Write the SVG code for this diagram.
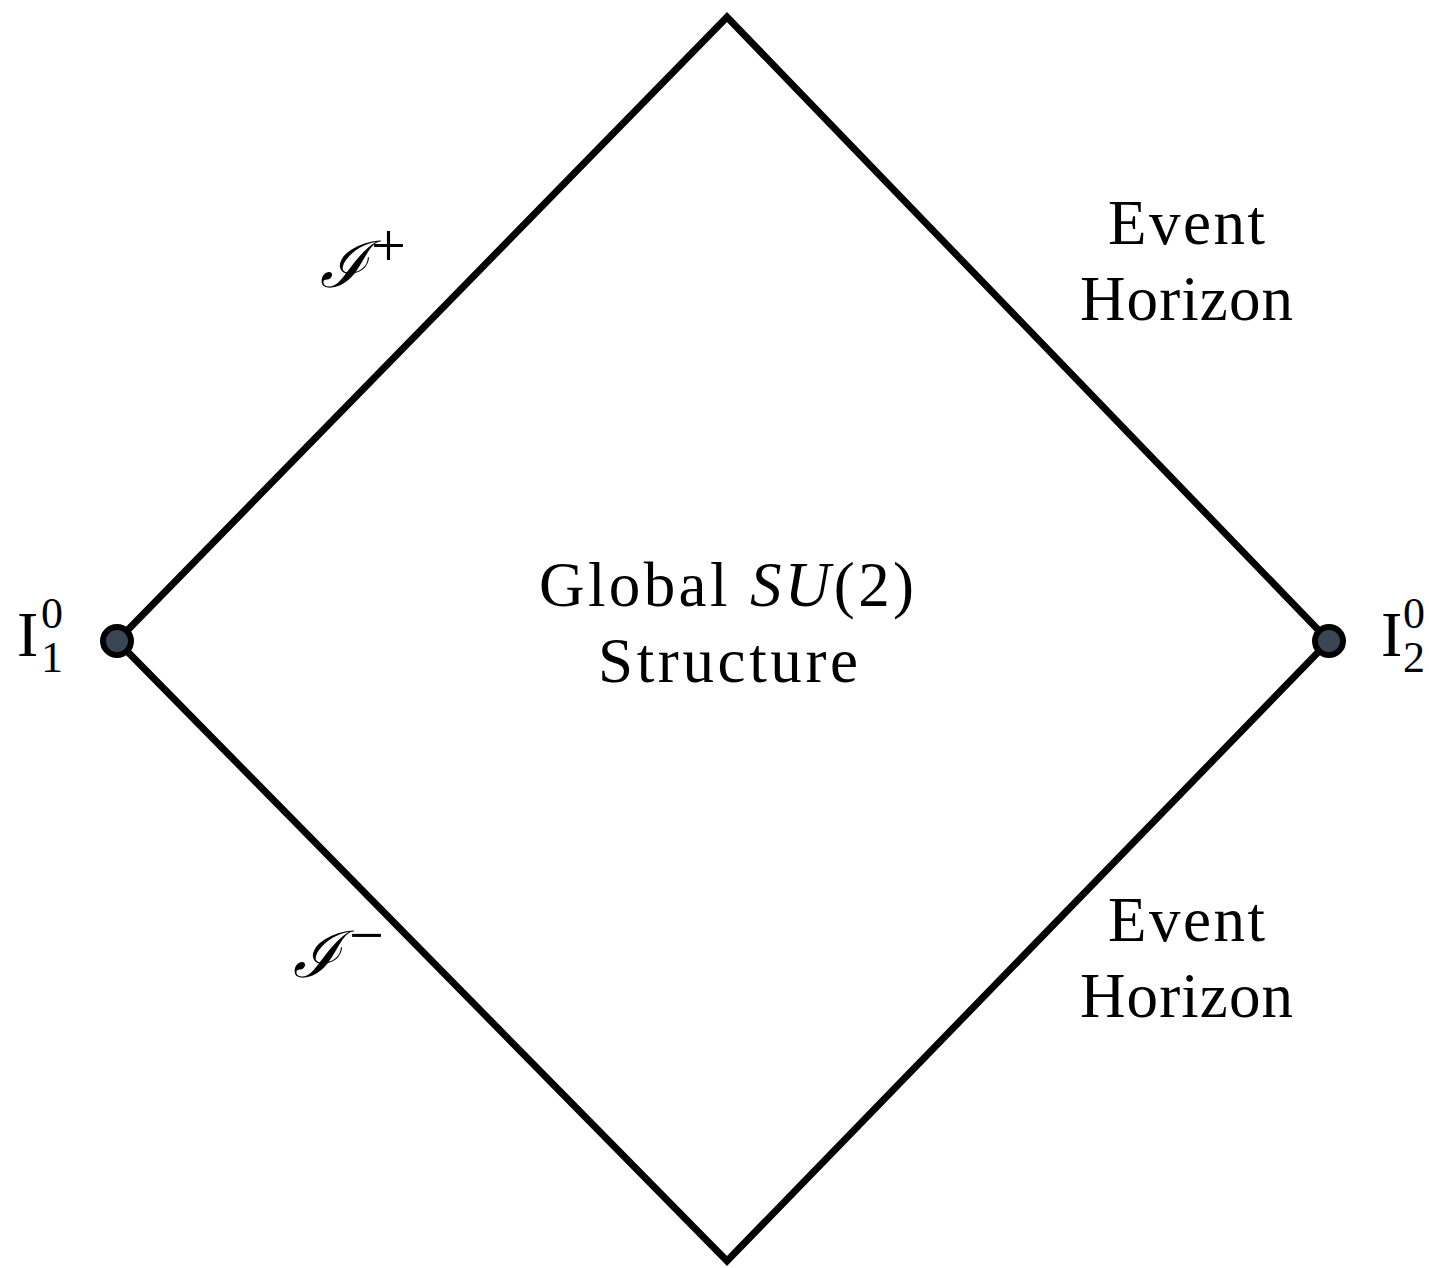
<svg xmlns="http://www.w3.org/2000/svg" width="1429" height="1268" viewBox="0 0 1429 1268">
<style>
.t{font-family:"Liberation Serif","Times New Roman",serif;fill:#000;}
.big{font-size:63px;}
.sup{font-size:44px;}
.op{font-size:62px;}
.edge{fill:none;stroke:#000;stroke-width:7;stroke-linejoin:miter;}
.pt{fill:#3a4654;stroke:#000;stroke-width:6;}
.scr{font-family:"DejaVu Serif","Liberation Serif",serif;font-style:italic;font-size:64px;}
</style>
<rect width="1429" height="1268" fill="#fff"/>
<g id="connectors">
<path id="diamond" class="edge" d="M117,641 L727,17 L1329,641 L727,1261 Z"/>
</g>
<g id="node-i1">
<circle class="pt" cx="117" cy="641" r="14"/>
<text class="t" font-size="64" x="17" y="656">I</text>
<text class="t sup" x="41" y="628">0</text>
<text class="t sup" x="41" y="672">1</text>
</g>
<g id="node-i2">
<circle class="pt" cx="1329" cy="641" r="14"/>
<text class="t" font-size="64" x="1381" y="656">I</text>
<text class="t sup" x="1403" y="628">0</text>
<text class="t sup" x="1403" y="672">2</text>
</g>
<g id="label-scri-plus">
<text class="scr" x="320" y="287">ℐ</text>
<text class="t op" x="371" y="266">+</text>
</g>
<g id="label-scri-minus">
<text class="scr" x="293" y="977">ℐ</text>
<text class="t op" x="349" y="956">−</text>
</g>
<g id="label-center">
<text class="t big" x="539" y="606" textLength="375" lengthAdjust="spacing">Global <tspan font-style="italic">SU</tspan>(2)</text>
<text class="t big" x="598" y="682" textLength="260" lengthAdjust="spacing">Structure</text>
</g>
<g id="label-eh-top">
<text class="t big" x="1108" y="244" textLength="157" lengthAdjust="spacing">Event</text>
<text class="t big" x="1080" y="320" textLength="213" lengthAdjust="spacing">Horizon</text>
</g>
<g id="label-eh-bottom">
<text class="t big" x="1108" y="941" textLength="157" lengthAdjust="spacing">Event</text>
<text class="t big" x="1080" y="1017" textLength="213" lengthAdjust="spacing">Horizon</text>
</g>
</svg>
